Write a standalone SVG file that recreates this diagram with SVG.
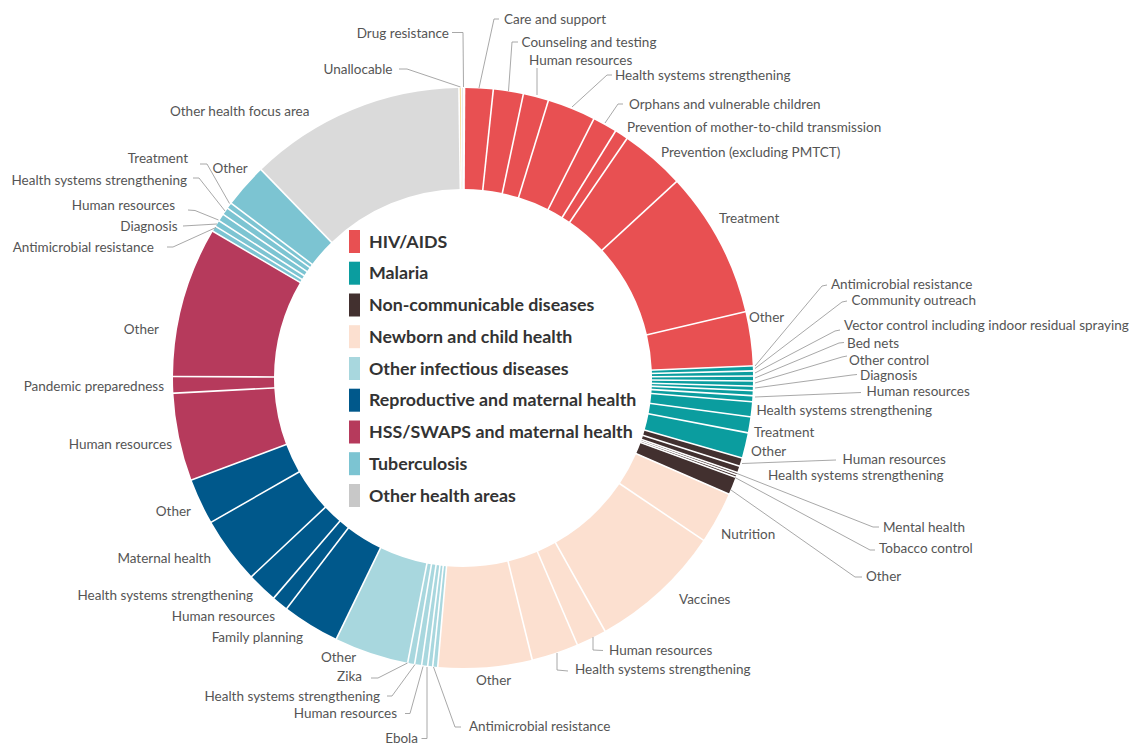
<svg xmlns="http://www.w3.org/2000/svg" width="1137" height="744" viewBox="0 0 1137 744">
<style>
.s{fill:none;stroke-width:101}
.hiv{stroke:#E85052}.mal{stroke:#0B9D9F}.ncd{stroke:#42302F}.nb{stroke:#FCE0D0}.oid{stroke:#A8D7DE}.rep{stroke:#00588B}.hss{stroke:#B63A5C}.tb{stroke:#7CC4D2}.oth{stroke:#DADADA}.un{stroke:#F7D67E}
.sep line{stroke:#fff;stroke-width:1.6}
.l{font-family:Lato,"Open Sans","Liberation Sans",sans-serif;font-size:13.5px;fill:#555}
.e{text-anchor:end}
.ld{fill:none;stroke:#9e9e9e;stroke-width:0.9}
.lg{font-family:Lato,"Open Sans","Liberation Sans",sans-serif;font-weight:700;font-size:17.8px;fill:#333}
</style>
<rect width="1137" height="744" fill="#fff"/>
<g id="donut" transform="translate(463 378)">
<g id="hiv-care"><circle class="s hiv" r="239.5" pathLength="360" stroke-dasharray="5.7 400" transform="rotate(-89.7)"/></g>
<g id="hiv-counseling"><circle class="s hiv" r="239.5" pathLength="360" stroke-dasharray="6 400" transform="rotate(-84)"/></g>
<g id="hiv-hr"><circle class="s hiv" r="239.5" pathLength="360" stroke-dasharray="5.1 400" transform="rotate(-78)"/></g>
<g id="hiv-hss"><circle class="s hiv" r="239.5" pathLength="360" stroke-dasharray="9.7 400" transform="rotate(-72.9)"/></g>
<g id="hiv-orphans"><circle class="s hiv" r="239.5" pathLength="360" stroke-dasharray="4.9 400" transform="rotate(-63.2)"/></g>
<g id="hiv-pmtct"><circle class="s hiv" r="239.5" pathLength="360" stroke-dasharray="2.7 400" transform="rotate(-58.3)"/></g>
<g id="hiv-prevention"><circle class="s hiv" r="239.5" pathLength="360" stroke-dasharray="13 400" transform="rotate(-55.6)"/></g>
<g id="hiv-treatment"><circle class="s hiv" r="239.5" pathLength="360" stroke-dasharray="29.4 400" transform="rotate(-42.6)"/></g>
<g id="hiv-other"><circle class="s hiv" r="239.5" pathLength="360" stroke-dasharray="10.8 400" transform="rotate(-13.2)"/></g>
<g id="mal-amr"><circle class="s mal" r="239.5" pathLength="360" stroke-dasharray="1 400" transform="rotate(-2.4)"/></g>
<g id="mal-community"><circle class="s mal" r="239.5" pathLength="360" stroke-dasharray="1 400" transform="rotate(-1.4)"/></g>
<g id="mal-vector"><circle class="s mal" r="239.5" pathLength="360" stroke-dasharray="1 400" transform="rotate(-0.4)"/></g>
<g id="mal-bednets"><circle class="s mal" r="239.5" pathLength="360" stroke-dasharray="1 400" transform="rotate(0.6)"/></g>
<g id="mal-othercontrol"><circle class="s mal" r="239.5" pathLength="360" stroke-dasharray="0.9 400" transform="rotate(1.6)"/></g>
<g id="mal-diagnosis"><circle class="s mal" r="239.5" pathLength="360" stroke-dasharray="1 400" transform="rotate(2.5)"/></g>
<g id="mal-hr"><circle class="s mal" r="239.5" pathLength="360" stroke-dasharray="1.2 400" transform="rotate(3.5)"/></g>
<g id="mal-hss"><circle class="s mal" r="239.5" pathLength="360" stroke-dasharray="3 400" transform="rotate(4.7)"/></g>
<g id="mal-treatment"><circle class="s mal" r="239.5" pathLength="360" stroke-dasharray="3.2 400" transform="rotate(7.7)"/></g>
<g id="mal-other"><circle class="s mal" r="239.5" pathLength="360" stroke-dasharray="5.1 400" transform="rotate(10.9)"/></g>
<g id="ncd-hr"><circle class="s ncd" r="239.5" pathLength="360" stroke-dasharray="1.7 400" transform="rotate(16)"/></g>
<g id="ncd-hss"><circle class="s ncd" r="239.5" pathLength="360" stroke-dasharray="1.3 400" transform="rotate(17.7)"/></g>
<g id="ncd-mental"><circle class="s ncd" r="239.5" pathLength="360" stroke-dasharray="0.5 400" transform="rotate(19)"/></g>
<g id="ncd-tobacco"><circle class="s ncd" r="239.5" pathLength="360" stroke-dasharray="0.5 400" transform="rotate(19.5)"/></g>
<g id="ncd-other"><circle class="s ncd" r="239.5" pathLength="360" stroke-dasharray="3.6 400" transform="rotate(20)"/></g>
<g id="nb-nutrition"><circle class="s nb" r="239.5" pathLength="360" stroke-dasharray="10.4 400" transform="rotate(23.6)"/></g>
<g id="nb-vaccines"><circle class="s nb" r="239.5" pathLength="360" stroke-dasharray="26.7 400" transform="rotate(34)"/></g>
<g id="nb-hr"><circle class="s nb" r="239.5" pathLength="360" stroke-dasharray="6.1 400" transform="rotate(60.7)"/></g>
<g id="nb-hss"><circle class="s nb" r="239.5" pathLength="360" stroke-dasharray="9.4 400" transform="rotate(66.8)"/></g>
<g id="nb-other"><circle class="s nb" r="239.5" pathLength="360" stroke-dasharray="18.8 400" transform="rotate(76.2)"/></g>
<g id="oid-amr"><circle class="s oid" r="239.5" pathLength="360" stroke-dasharray="1 400" transform="rotate(95)"/></g>
<g id="oid-ebola"><circle class="s oid" r="239.5" pathLength="360" stroke-dasharray="1 400" transform="rotate(96)"/></g>
<g id="oid-hr"><circle class="s oid" r="239.5" pathLength="360" stroke-dasharray="1.2 400" transform="rotate(97)"/></g>
<g id="oid-hss"><circle class="s oid" r="239.5" pathLength="360" stroke-dasharray="1.4 400" transform="rotate(98.2)"/></g>
<g id="oid-zika"><circle class="s oid" r="239.5" pathLength="360" stroke-dasharray="1.4 400" transform="rotate(99.6)"/></g>
<g id="oid-other"><circle class="s oid" r="239.5" pathLength="360" stroke-dasharray="14.9 400" transform="rotate(101)"/></g>
<g id="rep-fp"><circle class="s rep" r="239.5" pathLength="360" stroke-dasharray="11.5 400" transform="rotate(115.9)"/></g>
<g id="rep-hr"><circle class="s rep" r="239.5" pathLength="360" stroke-dasharray="3.3 400" transform="rotate(127.4)"/></g>
<g id="rep-hss"><circle class="s rep" r="239.5" pathLength="360" stroke-dasharray="6.1 400" transform="rotate(130.7)"/></g>
<g id="rep-maternal"><circle class="s rep" r="239.5" pathLength="360" stroke-dasharray="13.4 400" transform="rotate(136.8)"/></g>
<g id="rep-other"><circle class="s rep" r="239.5" pathLength="360" stroke-dasharray="9.2 400" transform="rotate(150.2)"/></g>
<g id="hss-hr"><circle class="s hss" r="239.5" pathLength="360" stroke-dasharray="17.6 400" transform="rotate(159.4)"/></g>
<g id="hss-pandemic"><circle class="s hss" r="239.5" pathLength="360" stroke-dasharray="3.3 400" transform="rotate(177)"/></g>
<g id="hss-other"><circle class="s hss" r="239.5" pathLength="360" stroke-dasharray="30.1 400" transform="rotate(180.3)"/></g>
<g id="tb-amr"><circle class="s tb" r="239.5" pathLength="360" stroke-dasharray="1.1 400" transform="rotate(210.4)"/></g>
<g id="tb-diagnosis"><circle class="s tb" r="239.5" pathLength="360" stroke-dasharray="1.3 400" transform="rotate(211.5)"/></g>
<g id="tb-hr"><circle class="s tb" r="239.5" pathLength="360" stroke-dasharray="1.5 400" transform="rotate(212.8)"/></g>
<g id="tb-hss"><circle class="s tb" r="239.5" pathLength="360" stroke-dasharray="1.5 400" transform="rotate(214.3)"/></g>
<g id="tb-treatment"><circle class="s tb" r="239.5" pathLength="360" stroke-dasharray="1.2 400" transform="rotate(215.8)"/></g>
<g id="tb-other"><circle class="s tb" r="239.5" pathLength="360" stroke-dasharray="8.9 400" transform="rotate(217)"/></g>
<g id="oth-focus"><circle class="s oth" r="239.5" pathLength="360" stroke-dasharray="43.3 400" transform="rotate(225.9)"/></g>
<g id="oth-unallocable"><circle class="s un" r="239.5" pathLength="360" stroke-dasharray="0.5 400" transform="rotate(269.2)"/></g>
<g id="oth-drug"><circle class="s oth" r="239.5" pathLength="360" stroke-dasharray="0.3 400" transform="rotate(269.7)"/></g>
<g class="sep" id="separators">
<line y1="-186" y2="-293" transform="rotate(0.3)"/><line y1="-186" y2="-293" transform="rotate(6)"/><line y1="-186" y2="-293" transform="rotate(12)"/><line y1="-186" y2="-293" transform="rotate(17.1)"/><line y1="-186" y2="-293" transform="rotate(26.8)"/><line y1="-186" y2="-293" transform="rotate(31.7)"/><line y1="-186" y2="-293" transform="rotate(34.4)"/><line y1="-186" y2="-293" transform="rotate(47.4)"/><line y1="-186" y2="-293" transform="rotate(76.8)"/><line y1="-186" y2="-293" transform="rotate(87.6)"/><line y1="-186" y2="-293" transform="rotate(88.6)"/><line y1="-186" y2="-293" transform="rotate(89.6)"/><line y1="-186" y2="-293" transform="rotate(90.6)"/><line y1="-186" y2="-293" transform="rotate(91.6)"/><line y1="-186" y2="-293" transform="rotate(92.5)"/><line y1="-186" y2="-293" transform="rotate(93.5)"/><line y1="-186" y2="-293" transform="rotate(94.7)"/><line y1="-186" y2="-293" transform="rotate(97.7)"/><line y1="-186" y2="-293" transform="rotate(100.9)"/><line y1="-186" y2="-293" transform="rotate(106)"/><line y1="-186" y2="-293" transform="rotate(107.7)"/><line y1="-186" y2="-293" transform="rotate(109)"/><line y1="-186" y2="-293" transform="rotate(109.5)"/><line y1="-186" y2="-293" transform="rotate(110)"/><line y1="-186" y2="-293" transform="rotate(113.6)"/><line y1="-186" y2="-293" transform="rotate(124)"/><line y1="-186" y2="-293" transform="rotate(150.7)"/><line y1="-186" y2="-293" transform="rotate(156.8)"/><line y1="-186" y2="-293" transform="rotate(166.2)"/><line y1="-186" y2="-293" transform="rotate(185)"/><line y1="-186" y2="-293" transform="rotate(186)"/><line y1="-186" y2="-293" transform="rotate(187)"/><line y1="-186" y2="-293" transform="rotate(188.2)"/><line y1="-186" y2="-293" transform="rotate(189.6)"/><line y1="-186" y2="-293" transform="rotate(191)"/><line y1="-186" y2="-293" transform="rotate(205.9)"/><line y1="-186" y2="-293" transform="rotate(217.4)"/><line y1="-186" y2="-293" transform="rotate(220.7)"/><line y1="-186" y2="-293" transform="rotate(226.8)"/><line y1="-186" y2="-293" transform="rotate(240.2)"/><line y1="-186" y2="-293" transform="rotate(249.4)"/><line y1="-186" y2="-293" transform="rotate(267)"/><line y1="-186" y2="-293" transform="rotate(270.3)"/><line y1="-186" y2="-293" transform="rotate(300.4)"/><line y1="-186" y2="-293" transform="rotate(301.5)"/><line y1="-186" y2="-293" transform="rotate(302.8)"/><line y1="-186" y2="-293" transform="rotate(304.3)"/><line y1="-186" y2="-293" transform="rotate(305.8)"/><line y1="-186" y2="-293" transform="rotate(307)"/><line y1="-186" y2="-293" transform="rotate(315.9)"/><line y1="-186" y2="-293" transform="rotate(359.2)"/><line y1="-186" y2="-293" transform="rotate(359.7)"/>
</g>
</g>
<g id="connectors" class="ld">
<polyline points="452,32.5 463,32.5 463.5,87"/>
<polyline points="399,69 407,69 460.5,87"/>
<polyline points="499,19 494,19 479,88"/>
<polyline points="518,42 512,42 508.5,91"/>
<polyline points="537,68 537,95"/>
<polyline points="612,75 607,75 572,107"/>
<polyline points="623,104 618,104 605,123"/>
<polyline points="827,285 822,286 755,366"/>
<polyline points="847,301 842,302 755,368.5"/>
<polyline points="840,330 835,331 755,373"/>
<polyline points="844,342.5 839,343 755,378"/>
<polyline points="847,356 842,357 755,383"/>
<polyline points="857,374.5 852,375 755,388"/>
<polyline points="861,392.5 755,397"/>
<polyline points="836,460 742,463.5"/>
<polyline points="879,527 873,527 737,473.5"/>
<polyline points="875,550 870,550 735,477.5"/>
<polyline points="862,577 855,577 731,490"/>
<polyline points="593,637 593,650 603,650.5"/>
<polyline points="557,653 557,670 568,671"/>
<polyline points="433.5,667 455,727 461,727"/>
<polyline points="427,667 427,738.5 421.5,738.5"/>
<polyline points="405,713.5 410,713.5 423,666.5"/>
<polyline points="387,696 392,696 415,664.5"/>
<polyline points="371,678 378,678 407.5,663"/>
<polyline points="167,247 173,247 216,227.5"/>
<polyline points="183,226 217,224"/>
<polyline points="188,210 195,210.5 218.5,220"/>
<polyline points="193,178 199,178 225,211"/>
<polyline points="200,164 207,164 229.5,203.5"/>
</g>
<g id="labels">
<text class="l e" x="449" y="37.5">Drug resistance</text>
<text class="l e" x="392.5" y="73.5">Unallocable</text>
<text class="l" x="504" y="23.5">Care and support</text>
<text class="l" x="521.5" y="46.5">Counseling and testing</text>
<text class="l" x="529" y="64.5">Human resources</text>
<text class="l" x="615" y="79.5">Health systems strengthening</text>
<text class="l" x="629" y="108.5">Orphans and vulnerable children</text>
<text class="l" x="627" y="132">Prevention of mother-to-child transmission</text>
<text class="l" x="661" y="156.5">Prevention (excluding PMTCT)</text>
<text class="l" x="719" y="222.5">Treatment</text>
<text class="l" x="749" y="321.5">Other</text>
<text class="l" x="831" y="288.5">Antimicrobial resistance</text>
<text class="l" x="851.5" y="305">Community outreach</text>
<text class="l" x="844" y="330">Vector control including indoor residual spraying</text>
<text class="l" x="847" y="348">Bed nets</text>
<text class="l" x="849" y="364.5">Other control</text>
<text class="l" x="860" y="380">Diagnosis</text>
<text class="l" x="866.5" y="396">Human resources</text>
<text class="l" x="756.5" y="415">Health systems strengthening</text>
<text class="l" x="754" y="436.5">Treatment</text>
<text class="l" x="751" y="456">Other</text>
<text class="l" x="842.5" y="463.5">Human resources</text>
<text class="l" x="768" y="479.5">Health systems strengthening</text>
<text class="l" x="883" y="531.5">Mental health</text>
<text class="l" x="879" y="553">Tobacco control</text>
<text class="l" x="866" y="580.5">Other</text>
<text class="l" x="721" y="538.5">Nutrition</text>
<text class="l" x="679" y="603.5">Vaccines</text>
<text class="l" x="609" y="654.5">Human resources</text>
<text class="l" x="575" y="674">Health systems strengthening</text>
<text class="l" x="476" y="684.5">Other</text>
<text class="l" x="469" y="731">Antimicrobial resistance</text>
<text class="l e" x="418" y="743">Ebola</text>
<text class="l e" x="397" y="718">Human resources</text>
<text class="l e" x="380" y="700.5">Health systems strengthening</text>
<text class="l e" x="362" y="681">Zika</text>
<text class="l" x="321" y="662">Other</text>
<text class="l e" x="303" y="642">Family planning</text>
<text class="l e" x="275" y="620.5">Human resources</text>
<text class="l e" x="253" y="599.5">Health systems strengthening</text>
<text class="l e" x="211" y="562.5">Maternal health</text>
<text class="l e" x="191" y="515.5">Other</text>
<text class="l e" x="172" y="448.5">Human resources</text>
<text class="l e" x="164" y="390.5">Pandemic preparedness</text>
<text class="l e" x="159" y="333.5">Other</text>
<text class="l e" x="154" y="251.5">Antimicrobial resistance</text>
<text class="l e" x="177.5" y="230.5">Diagnosis</text>
<text class="l e" x="175" y="209.5">Human resources</text>
<text class="l e" x="187" y="185">Health systems strengthening</text>
<text class="l e" x="188" y="163">Treatment</text>
<text class="l" x="212.5" y="172.5">Other</text>
<text class="l" x="170" y="115.5">Other health focus area</text>
</g>
<g id="legend">
<rect x="349" y="230" width="11" height="23" fill="#E85052"/><text class="lg" x="369" y="247.5">HIV/AIDS</text>
<rect x="349" y="261.7" width="11" height="23" fill="#0B9D9F"/><text class="lg" x="369" y="279.2">Malaria</text>
<rect x="349" y="293.5" width="11" height="23" fill="#42302F"/><text class="lg" x="369" y="311">Non-communicable diseases</text>
<rect x="349" y="325.2" width="11" height="23" fill="#FCE0D0"/><text class="lg" x="369" y="342.7">Newborn and child health</text>
<rect x="349" y="357" width="11" height="23" fill="#A8D7DE"/><text class="lg" x="369" y="374.5">Other infectious diseases</text>
<rect x="349" y="388.7" width="11" height="23" fill="#00588B"/><text class="lg" x="369" y="406.2">Reproductive and maternal health</text>
<rect x="349" y="420.5" width="11" height="23" fill="#B63A5C"/><text class="lg" x="369" y="438">HSS/SWAPS and maternal health</text>
<rect x="349" y="452.2" width="11" height="23" fill="#7CC4D2"/><text class="lg" x="369" y="469.7">Tuberculosis</text>
<rect x="349" y="484" width="11" height="23" fill="#C8C8C8"/><text class="lg" x="369" y="501.5">Other health areas</text>
</g>
</svg>
